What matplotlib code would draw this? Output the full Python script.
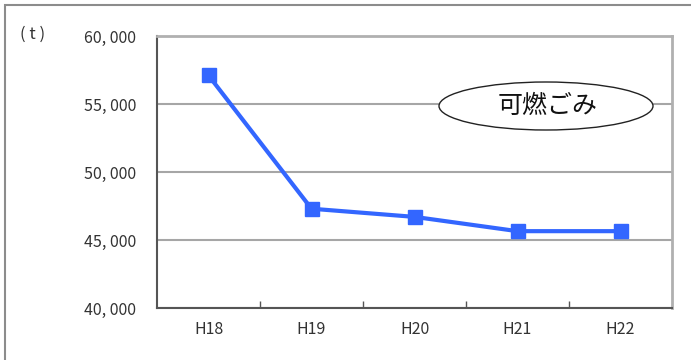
import matplotlib
matplotlib.use("Agg")
import matplotlib.pyplot as plt
from matplotlib.patches import Ellipse, Rectangle

plt.rcParams['font.family'] = ['Noto Sans CJK JP', 'DejaVu Sans']

years = ["H18", "H19", "H20", "H21", "H22"]
burnable = [57100, 47300, 46700, 45650, 45650]
y_ticks = [40000, 45000, 50000, 55000, 60000]
y_tick_labels = ["40, 000", "45, 000", "50, 000", "55, 000", "60, 000"]

W, H = 691, 360
fig = plt.figure(figsize=(W / 100, H / 100), dpi=100)

# outer frame
fig.patches.append(Rectangle((4.5 / W, -0.1), (W + 10) / W, (H - 5.5) / H + 0.1,
                             transform=fig.transFigure, fill=False,
                             edgecolor="#8c8c8c", linewidth=1.5))

left, right, top, bottom = 157, 672, 36, 308
ax = fig.add_axes([left / W, 1 - bottom / H, (right - left) / W, (bottom - top) / H])

x = list(range(len(years)))
ax.plot(x, burnable, color="#3366ff", linewidth=3, marker="s",
        markersize=10, markerfacecolor="#3366ff", markeredgecolor="#3366ff",
        zorder=3)

ax.set_xlim(-0.5, len(years) - 0.5)
ax.set_ylim(40000, 60000)
ax.set_yticks(y_ticks)
ax.set_yticklabels(y_tick_labels)
ax.tick_params(axis="y", length=0, pad=15, labelsize=11.5, labelcolor="#333333")

ax.set_xticks(x)
ax.set_xticklabels(years)
ax.tick_params(axis="x", which="major", length=0, pad=9, labelsize=11.5,
               labelcolor="#333333")
ax.set_xticks([i + 0.5 for i in range(len(years) - 1)], minor=True)
ax.tick_params(axis="x", which="minor", direction="in", length=5,
               width=1, color="#555555")

ax.yaxis.grid(True, color="#a6a6a6", linewidth=1.5)
ax.set_axisbelow(True)

for side in ("left", "bottom"):
    ax.spines[side].set_color("#555555")
    ax.spines[side].set_linewidth(1.5)
for side in ("right", "top"):
    ax.spines[side].set_color("#b0b0b0")
    ax.spines[side].set_linewidth(2)

# unit label
fig.text(20 / W, 1 - 34 / H, "( t )", fontsize=12, color="#333333",
         ha="left", va="center")

# series label in an ellipse
ex, ey = 546 / W, 1 - 106 / H
fig.patches.append(Ellipse((ex, ey), 214 / W, 48 / H, transform=fig.transFigure,
                           facecolor="white", edgecolor="#222222",
                           linewidth=1.0, zorder=5))
fig.text(ex + 0.002, ey, "可燃ごみ", fontsize=18, color="#111111",
         ha="center", va="center", zorder=6)

fig.savefig("out.png", dpi=100)
